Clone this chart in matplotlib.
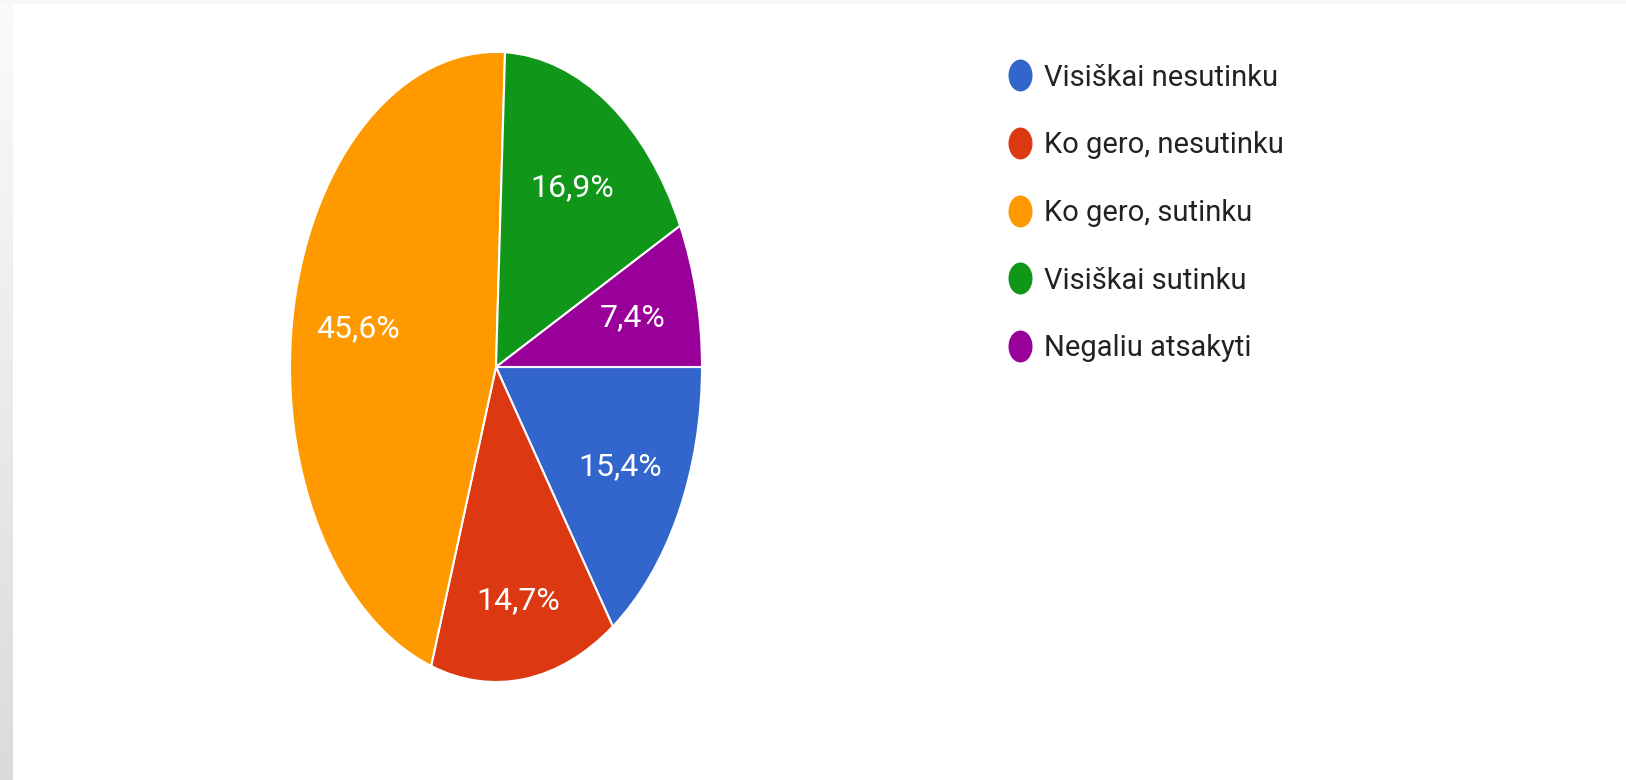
import numpy as np
import matplotlib
matplotlib.use("Agg")
import matplotlib.pyplot as plt
from matplotlib.path import Path
from matplotlib.transforms import Affine2D
from matplotlib.lines import Line2D
from matplotlib.patches import Rectangle

labels = ["Visiškai nesutinku", "Ko gero, nesutinku", "Ko gero, sutinku",
          "Visiškai sutinku", "Negaliu atsakyti"]
values = [15.4, 14.7, 45.6, 16.9, 7.4]
colors = ["#3366cc", "#dc3912", "#ff9900", "#109618", "#990099"]

plt.rcParams["font.family"] = ["Roboto", "DejaVu Sans"]

W, H = 1626, 780
fig = plt.figure(figsize=(W / 100, H / 100), dpi=100)
fig.patch.set_facecolor("white")

# grey page strip on the left and a faint band at the top
strip = fig.add_axes([0, 0, 12 / W, 1])
grad = np.linspace(0.98, 0.855, 256).reshape(-1, 1)
strip.imshow(grad, aspect="auto", cmap="gray", vmin=0, vmax=1)
strip.set_axis_off()
fig.patches.append(Rectangle((0, 1 - 4 / H), 1, 4 / H, transform=fig.transFigure,
                             facecolor="#f8f8f8", edgecolor="none"))

# pie stretched to an ellipse (screenshot was squeezed horizontally)
ax = fig.add_axes([290 / W, 1 - 682 / H, 412 / W, 630 / H])
wedges, texts, autotexts = ax.pie(
    values, colors=colors, startangle=0, counterclock=False,
    autopct=lambda p: f"{p:.1f}%".replace(".", ","), pctdistance=0.68,
    wedgeprops=dict(edgecolor="white", linewidth=1.5),
    textprops=dict(color="white", fontsize=23),
)
# the small bottom label sits a bit further out in the original
x, y = autotexts[1].get_position()
autotexts[1].set_position((x * 1.1, y * 1.1))
ax.set_aspect("auto")
ax.set_xlim(-1.0, 1.0)
ax.set_ylim(-1.0, 1.0)

# elliptical legend markers
ell = Path.unit_circle().transformed(Affine2D().scale(0.74, 1.0))
handles = [Line2D([], [], linestyle="none", marker=ell, markersize=22,
                  markerfacecolor=c, markeredgecolor=c) for c in colors]
fig.legend(handles, labels, loc="upper left",
           bbox_to_anchor=(1000 / W, 1 - 52 / H), frameon=False,
           fontsize=21, labelcolor="#222222", handlelength=0.6,
           handletextpad=0.5, labelspacing=1.36, borderaxespad=0)

fig.savefig("out.png", dpi=100)
